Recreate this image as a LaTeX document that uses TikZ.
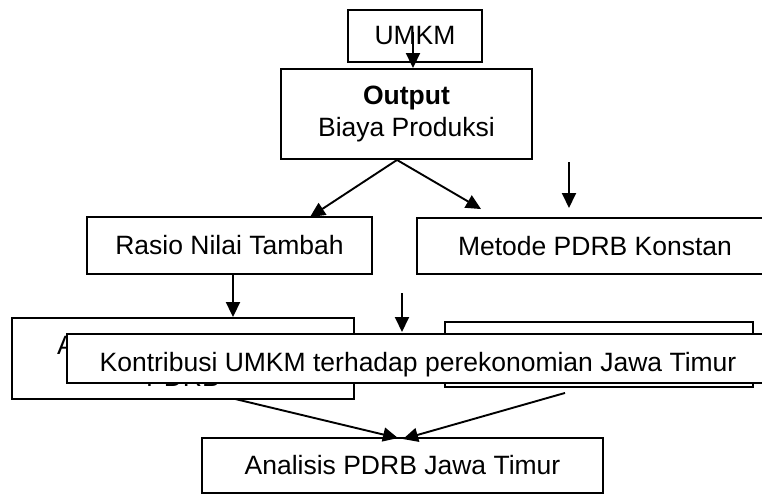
\documentclass[tikz,border=0pt]{standalone}
\usepackage{fontspec}
\setmainfont{Liberation Sans}
\usepackage{tikz}
\usetikzlibrary{calc,arrows.meta}

\begin{document}
\begin{tikzpicture}[x=0.5pt,y=-0.5pt,
    box/.style={draw,line width=0.95pt,fill=white,inner sep=0pt,align=center,
      font=\fontsize{13.25}{16}\selectfont},
    arr/.style={line width=0.95pt,-{Triangle[length=7.5pt,width=7pt]}}]
    \useasboundingbox (0,0) rectangle (762,494);
    \clip (0,0) rectangle (762,494);

    \node[box,minimum width=67pt,minimum height=26pt] (umkm) at (415,36) {UMKM};
    \node[box,minimum width=125.5pt,minimum height=45pt] (output) at (406.5,114)
      {\textbf{Output}\\Biaya Produksi};

    \node[box,minimum width=142.5pt,minimum height=28.5pt] (rasio) at (229.5,245.5)
      {Rasio Nilai Tambah};
    \node[box,minimum width=178pt,minimum height=28pt] (metode) at (595,246)
      {Metode PDRB Konstan};

    % the two boxes below are mostly covered by the wide one
    \node[box,minimum width=171pt,minimum height=40.5pt] (anpdrb) at (183,358.5)
      {\rule{0pt}{12pt}Analisis Nilai Tambah\\PDRB};
    \node[box,minimum width=154pt,minimum height=32.5pt] (rbox) at (599,354.5) {};
    \node[box,minimum width=351pt,minimum height=24.5pt,text height=13pt,text depth=0pt]
      (kontribusi) at (418,358.5) {Kontribusi UMKM terhadap perekonomian Jawa Timur};

    \node[box,minimum width=200.5pt,minimum height=27.5pt] (analisis) at (402.5,465.5)
      {Analisis PDRB Jawa Timur};

    \coordinate (fork) at ($(output.south)+(-9.5,0)$);
    \coordinate (rs) at ([xshift=1.75pt]rasio.south);
    \coordinate (mtail) at (569,162);
    \coordinate (mhead) at (569,208);
    \coordinate (ktail) at (402,293);
    \coordinate (khead) at (402,332);

    \draw[arr] ([xshift=-1pt,yshift=2pt]umkm.center) -- ([xshift=-1pt]umkm.center |- output.north);
    \draw[arr] (fork) -- ($(rasio.north)+(80.5,1)$);
    \draw[arr] (fork) -- ($(metode.north west)+(65,-8)$);
    \draw[arr] (mtail) -- (mhead);
    \draw[arr] (rs) -- (rs |- anpdrb.north);
    \draw[arr] (ktail) -- (khead);
    \draw[arr] ($(anpdrb.south)+(52,-1)$) -- ($(analisis.north)+(-4.5,1)$);
    \draw[arr] ($(rbox.south)+(-34,5)$) -- ($(analisis.north)+(0.5,2)$);
\end{tikzpicture}
\end{document}
